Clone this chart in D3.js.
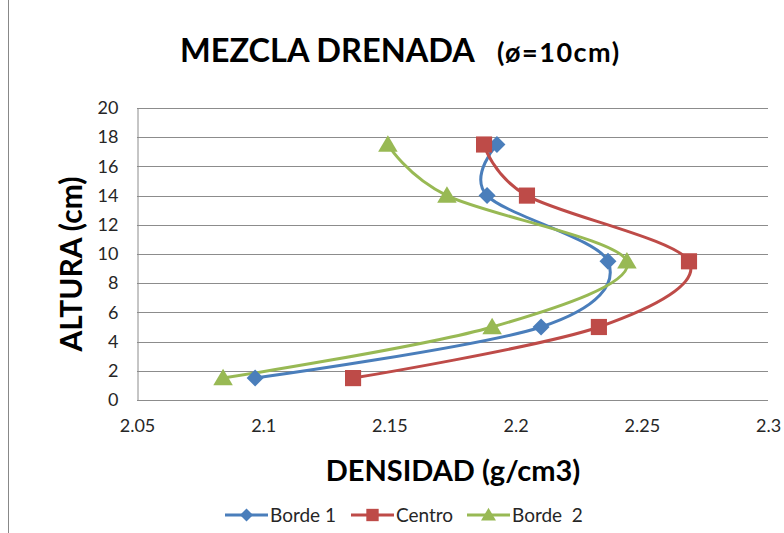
<!DOCTYPE html>
<html>
<head>
<meta charset="utf-8">
<script src="https://cdn.jsdelivr.net/npm/d3@7"></script>
<style>
  html, body { margin: 0; padding: 0; background: #fff; }
  svg { display: block; }
  text { font-family: Lato, "Open Sans", sans-serif; }
</style>
</head>
<body>
<svg id="chart" width="784" height="533"></svg>
<script>
// Height of each measurement (cm)
const heights = [1.5, 5, 9.5, 14, 17.5];
// Density (g/cm3) per series, one value per height
const borde1 = [2.0968, 2.2101, 2.2366, 2.1887, 2.1926];
const centro = [2.1356, 2.2330, 2.2687, 2.2045, 2.1875];
const borde2 = [2.0841, 2.1907, 2.2441, 2.1728, 2.1494];
const seriesNames = ["Borde 1", "Centro", "Borde  2"];
const xTicks = [2.05, 2.1, 2.15, 2.2, 2.25, 2.3];
const yTicks = [0, 2, 4, 6, 8, 10, 12, 14, 16, 18, 20];

const colors = ["#4A7EBB", "#BE4B48", "#98B954"];
const markers = ["diamond", "square", "triangle"];

const series = [borde1, centro, borde2].map((vals, i) => ({
  name: seriesNames[i],
  color: colors[i],
  marker: markers[i],
  points: vals.map((d, j) => ({ x: d, y: heights[j] }))
}));

const svg = d3.select("#chart");

// chart area outline
svg.append("rect")
  .attr("x", 8.5).attr("y", -2).attr("width", 790).attr("height", 540)
  .attr("fill", "none").attr("stroke", "#888").attr("stroke-width", 1);

const plot = { left: 137, right: 768, top: 108, bottom: 400 };
const x = d3.scaleLinear().domain([2.05, 2.3]).range([plot.left, plot.right]);
const y = d3.scaleLinear().domain([0, 20]).range([plot.bottom, plot.top]);

// horizontal gridlines
svg.append("g")
  .selectAll("line")
  .data(yTicks)
  .join("line")
  .attr("x1", plot.left).attr("x2", plot.right)
  .attr("y1", d => Math.round(y(d)) + 0.5).attr("y2", d => Math.round(y(d)) + 0.5)
  .attr("stroke", "#8c8c8c").attr("stroke-width", 1);

// y axis
const yAxis = svg.append("g")
  .attr("transform", `translate(${plot.left + 0.5},0)`)
  .call(d3.axisLeft(y).tickValues(yTicks).tickSize(0).tickPadding(19).tickFormat(d3.format("d")));
yAxis.select(".domain").attr("stroke", "#8c8c8c");
yAxis.selectAll("text").attr("font-size", 18).attr("fill", "#262626")
  .attr("font-family", "Lato, sans-serif");

// x axis
const xAxis = svg.append("g")
  .attr("transform", `translate(0,${plot.bottom + 0.5})`)
  .call(d3.axisBottom(x).tickValues(xTicks).tickSize(0).tickPadding(19).tickFormat(d => String(d)));
xAxis.select(".domain").remove();
xAxis.selectAll("text").attr("font-size", 18).attr("fill", "#262626")
  .attr("font-family", "Lato, sans-serif");

// marker shapes
function markerPath(type, s) {
  if (type === "diamond") {
    return `M0,${-s}L${s},0L0,${s}L${-s},0Z`;
  } else if (type === "square") {
    const h = s * 0.95;
    return `M${-h},${-h}H${h}V${h}H${-h}Z`;
  } else {
    const w = s * 1.15;
    return `M0,${-s * 1.1}L${w},${s * 0.85}L${-w},${s * 0.85}Z`;
  }
}

const line = d3.line()
  .x(d => x(d.x))
  .y(d => y(d.y))
  .curve(d3.curveCatmullRom.alpha(0));

const gSeries = svg.append("g");
series.forEach(s => {
  gSeries.append("path")
    .attr("d", line(s.points))
    .attr("fill", "none")
    .attr("stroke", s.color)
    .attr("stroke-width", 3)
    .attr("stroke-linejoin", "round");
});
series.forEach(s => {
  gSeries.append("g")
    .selectAll("path")
    .data(s.points)
    .join("path")
    .attr("transform", d => `translate(${x(d.x)},${y(d.y)})`)
    .attr("d", markerPath(s.marker, 8.5))
    .attr("fill", s.color);
});

// title
svg.append("text")
  .attr("x", 180).attr("y", 62)
  .attr("font-size", 32.5).attr("font-weight", "bold").attr("fill", "#000")
  .text("MEZCLA DRENADA");
svg.append("text")
  .attr("x", 497).attr("y", 62)
  .attr("font-size", 27).attr("font-weight", "bold").attr("fill", "#000")
  .attr("letter-spacing", 1.5)
  .text("(ø=10cm)");

// axis titles
svg.append("text")
  .attr("transform", `translate(82,${(plot.top + plot.bottom) / 2 + 10}) rotate(-90)`)
  .attr("text-anchor", "middle")
  .attr("font-size", 30).attr("font-weight", "bold").attr("fill", "#000")
  .text("ALTURA (cm)");

svg.append("text")
  .attr("x", 453).attr("y", 481)
  .attr("text-anchor", "middle")
  .attr("font-size", 29).attr("font-weight", "bold").attr("fill", "#000")
  .text("DENSIDAD (g/cm3)");

// legend
const legendX = [225, 351, 467];
const legend = svg.append("g").attr("transform", "translate(0,515)");
series.forEach((s, i) => {
  const g = legend.append("g").attr("transform", `translate(${legendX[i]},0)`);
  g.append("line").attr("x1", 0).attr("x2", 43).attr("y1", 0).attr("y2", 0)
    .attr("stroke", s.color).attr("stroke-width", 3);
  g.append("path").attr("transform", "translate(21.5,0)")
    .attr("d", markerPath(s.marker, 6.5)).attr("fill", s.color);
  g.append("text").attr("x", 45).attr("y", 7)
    .attr("font-size", 19).attr("fill", "#262626")
    .attr("xml:space", "preserve")
    .style("white-space", "pre")
    .text(s.name);
});
</script>
</body>
</html>
